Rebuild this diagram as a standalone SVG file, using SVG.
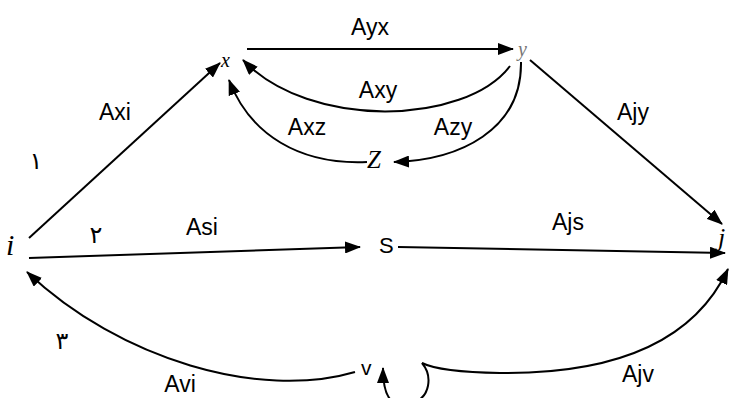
<svg xmlns="http://www.w3.org/2000/svg" width="731" height="398" viewBox="0 0 731 398">
<style>
.e{fill:none;stroke:#000;stroke-width:2;marker-end:url(#ah)}
.lb{font-family:"Liberation Sans",Arial,sans-serif;font-size:23px;fill:#000;text-anchor:middle}
.nd{font-family:"Liberation Serif","Times New Roman",serif;font-style:italic;fill:#000}
.ns{font-family:"Liberation Sans",Arial,sans-serif;fill:#000}
.ar{font-family:"DejaVu Sans",sans-serif;font-size:24px;fill:#000;text-anchor:middle}
</style>
<defs>
<marker id="ah" viewBox="0 0 16 12" refX="15" refY="6" markerWidth="16" markerHeight="12" markerUnits="userSpaceOnUse" orient="auto">
<path d="M0,0 L16,6 L0,12 z" fill="#000"/>
</marker>
</defs>
<g id="connectors">
<path class="e" d="M247,49 L513,49"/>
<path class="e" d="M510,66 C465,125 310,130 243,60"/>
<path class="e" d="M367,162 C300,165 250,135 229,80"/>
<path class="e" d="M521,62 C522,130 460,160 394,162"/>
<path class="e" d="M530,60 L722,224"/>
<path class="e" d="M29,238 L220,63"/>
<path class="e" d="M29,258 L360,247"/>
<path class="e" d="M398,247 L725,253"/>
<path class="e" d="M355,372 C260,400 120,360 27,272"/>
<path class="e" d="M422,363 Q440,372 500,373 C600,374 690,350 728,269"/>
<path class="e" d="M422,363 C432,375 432,398 410,404 C392,408 383,398 383,368"/>
</g>
<g id="labels">
<text class="lb" x="370" y="35">Ayx</text>
<text class="lb" x="378" y="98">Axy</text>
<text class="lb" x="307" y="135">Axz</text>
<text class="lb" x="453" y="135">Azy</text>
<text class="lb" x="633" y="120">Ajy</text>
<text class="lb" x="115" y="120">Axi</text>
<text class="lb" x="202" y="235">Asi</text>
<text class="lb" x="568" y="230">Ajs</text>
<text class="lb" x="180" y="392">Avi</text>
<text class="lb" x="638" y="382">Ajv</text>
<text class="ar" x="36" y="169">١</text>
<text class="ar" x="96" y="243">٢</text>
<text class="ar" x="62" y="349">٣</text>
</g>
<g id="node-x"><text class="nd" x="221" y="67" font-size="20">x</text></g>
<g id="node-y"><text class="nd" x="518" y="56" font-size="20" style="fill:#777">y</text></g>
<g id="node-z"><text class="nd" x="367" y="168" font-size="25">Z</text></g>
<g id="node-i"><text class="nd" x="6" y="255" font-size="30">i</text></g>
<g id="node-j"><text class="nd" x="718" y="246" font-size="26">j</text></g>
<g id="node-s"><text class="ns" x="379" y="253" font-size="22">S</text></g>
<g id="node-v"><text class="ns" x="361" y="375" font-size="21">v</text></g>
</svg>
